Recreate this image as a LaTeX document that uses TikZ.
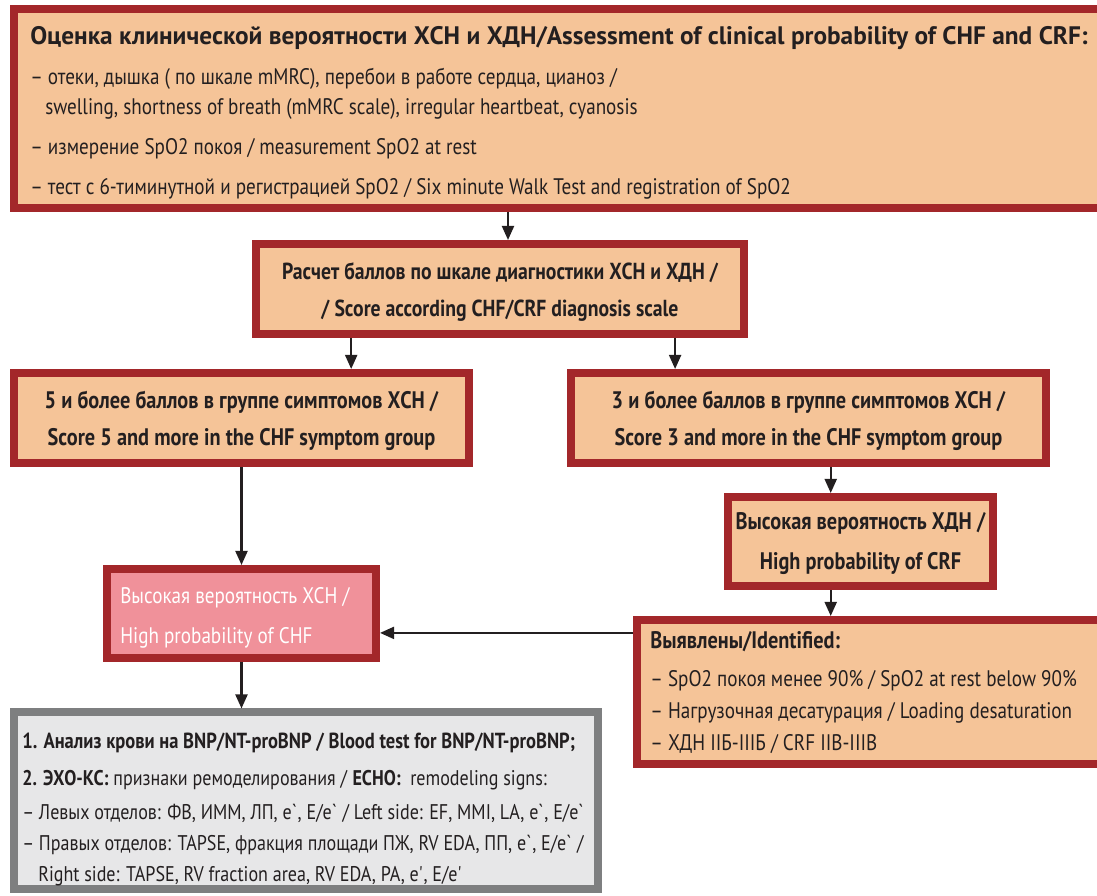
\documentclass[tikz,border=0pt]{standalone}
\usepackage{fontspec}
\setmainfont{PT Sans}[FakeStretch=0.85]
\newfontfamily\titlefont{PT Sans}
\usepackage{xcolor}
\usetikzlibrary{calc}
\usetikzlibrary{arrows.meta}
\usetikzlibrary{fit}

\definecolor{borderred}{HTML}{A3272A}
\definecolor{peach}{HTML}{F5C498}
\definecolor{rose}{HTML}{F0919A}
\definecolor{greyline}{HTML}{7E7F80}
\definecolor{greyfill}{HTML}{E7E7E8}
\definecolor{ink}{HTML}{231F20}

\begin{document}
\begin{tikzpicture}
    [x=0.025cm, y=-0.025cm,
    redbox/.style={rectangle, draw=borderred, line width=5.7pt, fill=peach, inner sep=0pt},
    greybox/.style={rectangle, draw=greyline, line width=5pt, fill=greyfill, inner sep=0pt},
    entry/.style={anchor=base west, inner sep=0pt, text=ink, font=\fontsize{16}{18}\selectfont},
    small/.style={entry, font=\fontsize{15.1}{18}\selectfont},
    boxtext/.style={align=center, inner sep=0pt, text=ink, font=\fontsize{17}{26}\selectfont\bfseries},
    arr/.style={-{Triangle[length=10pt,width=8.5pt]}, line width=1.6pt, draw=ink}]
    \useasboundingbox (0,0) rectangle (1097,895);

    % boxes
    \node(assess)[redbox, fit={(14,9) (1105,208)}] {};
    \node(calc)[redbox, fit={(256,244) (744,334)}] {};
    \node(five)[redbox, fit={(14,373) (469,463)}] {};
    \node(three)[redbox, fit={(571,373) (1046,463)}] {};
    \node(crf)[redbox, fit={(728,497) (993,586)}] {};
    \node(found)[redbox, fit={(637,620) (1105,764)}] {};
    \node(chf)[redbox, fill=rose, fit={(107,569) (376,658)}] {};
    \node(tests)[greybox, fit={(14,712) (598,889)}] {};

    % texts
    \node(calc-t)[boxtext, font=\fontsize{16.5}{26}\selectfont\bfseries] at ($(calc)+(0,3)$) {Расчет баллов по шкале диагностики ХСН и ХДН /\\/ Score according CHF/CRF diagnosis scale};
    \node(five-t)[boxtext] at ($(five)+(0,3)$) {5 и более баллов в группе симптомов ХСН /\\Score 5 and more in the CHF symptom group};
    \node(three-t)[boxtext] at ($(three)+(0,3)$) {3 и более баллов в группе симптомов ХСН /\\Score 3 and more in the CHF symptom group};
    \node(crf-t)[boxtext, font=\fontsize{17}{28}\selectfont\bfseries] at ($(crf)+(0,2)$) {Высокая вероятность ХДН /\\High probability of CRF};

    \node(assess-t)[entry, font=\titlefont\fontsize{18}{20}\selectfont\bfseries] at (30,44) {Оценка клинической вероятности ХСН и ХДН/Assessment of clinical probability of CHF and CRF:};
    \foreach \i/\x/\y/\t in {1/30/84/{– отеки, дышка ( по шкале mMRC), перебои в работе сердца, цианоз /},
        2/45/114/{swelling, shortness of breath (mMRC scale), irregular heartbeat, cyanosis},
        3/30/154/{– измерение SpO2 покоя / measurement SpO2 at rest},
        4/30/194/{– тест с 6-тиминутной и регистрацией SpO2 / Six minute Walk Test and registration of SpO2}}{
        \node(assess-\i)[entry] at (\x,\y) {\t};
    }

    \node(chf-1)[entry, text=white] at (120,603) {Высокая вероятность ХСН /};
    \node(chf-2)[entry, text=white] at (120,643) {High probability of CHF};

    \node(found-t)[entry, font=\fontsize{17}{18}\selectfont\bfseries] at (650,648) {Выявлены/Identified:};
    \foreach \i/\y/\t in {1/686/{– SpO2 покоя менее 90\% / SpO2 at rest below 90\%},
        2/718/{– Нагрузочная десатурация / Loading desaturation},
        3/750/{– ХДН IIБ-IIIБ / CRF IIB-IIIB}}{
        \node(found-\i)[entry] at (650,\y) {\t};
    }

    \node(tests-1)[small, font=\fontsize{15.5}{18}\selectfont\bfseries] at (22,748) {1. Анализ крови на BNP/NT-proBNP / Blood test for BNP/NT-proBNP;};
    \node(tests-2)[small] at (22,785) {\textbf{2. ЭХО-КС:} признаки ремоделирования / \textbf{ECHO:}\ \ remodeling signs:};
    \node(tests-3)[small] at (22,819) {– Левых отделов: ФВ, ИММ, ЛП, e\textasciigrave, E/e\textasciigrave\ / Left side: EF, MMI, LA, e\textasciigrave, E/e\textasciigrave};
    \node(tests-4)[small] at (22,850) {– Правых отделов: TAPSE, фракция площади ПЖ, RV EDA, ПП, e\textasciigrave, E/e\textasciigrave\ /};
    \node(tests-5)[small] at (38,881) {Right side: TAPSE, RV fraction area, RV EDA, PA, e\textquotesingle, E/e\textquotesingle};

    % connectors
    \coordinate(a) at ($(calc.north)+(8,0)$);
    \draw[arr] (a |- assess.south) -- (a);
    \coordinate(b) at ($(calc.south west)!0.2!(calc.south east)$);
    \coordinate(c) at ($(calc.south west)!0.853!(calc.south east)$);
    \draw[arr] (b) -- (b |- five.north);
    \draw[arr] (c) -- (c |- three.north);
    \coordinate(d) at ($(three.south west)!0.546!(three.south east)$);
    \draw[arr] (d) -- (d |- crf.north);
    \draw[arr] (d |- crf.south) -- (d |- found.north);
    \draw[arr] (five.south) -- (chf.north);
    \coordinate(e) at ($(chf.north east)!0.7!(chf.south east)$);
    \draw[arr] (e -| found.west) -- (e);
    \draw[arr] (chf.south) -- (chf.south |- tests.north);
\end{tikzpicture}
\end{document}
